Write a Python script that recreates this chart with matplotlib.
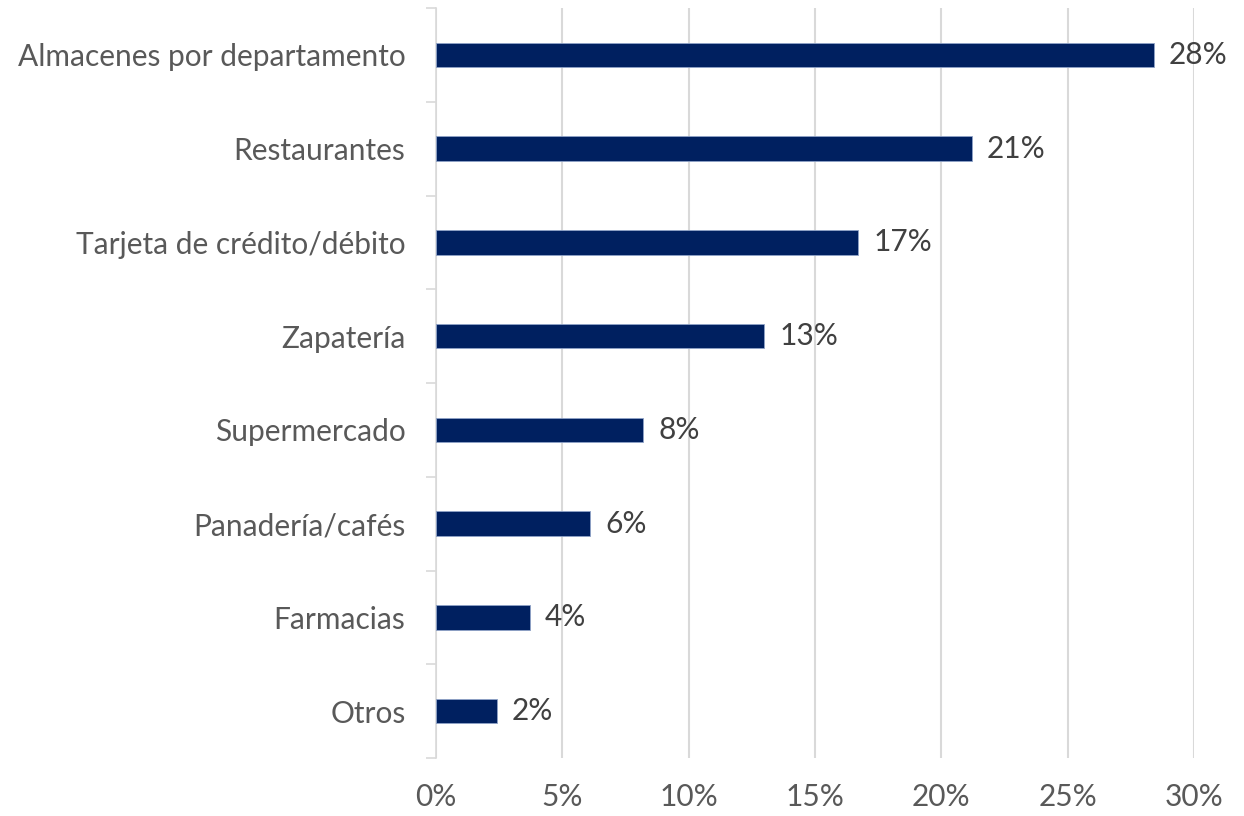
import matplotlib
matplotlib.use('Agg')
import matplotlib.pyplot as plt
import numpy as np

categories = ['Almacenes por departamento', 'Restaurantes', 'Tarjeta de crédito/débito',
              'Zapatería', 'Supermercado', 'Panadería/cafés', 'Farmacias', 'Otros']
values = [28.4, 21.2, 16.7, 13.0, 8.2, 6.1, 3.7, 2.4]
xticks = [0, 5, 10, 15, 20, 25, 30]

plt.rcParams['font.family'] = ['Lato', 'DejaVu Sans']

fig = plt.figure(figsize=(12.44, 8.16), dpi=100)
ax = fig.add_axes([0.3505, 0.0711, 0.6093, 0.919])

n = len(categories)
y = np.arange(n)[::-1]

ax.barh(y, values, height=0.26, color='#002060', edgecolor='#8fa3c8', linewidth=0.6, zorder=3)

for yi, v in zip(y, values):
    ax.text(v + 0.6, yi, f'{round(v):.0f}%', va='center', ha='left',
            fontsize=21.5, color='#404040')

ax.set_xlim(0, 30)
ax.set_ylim(-0.5, n - 0.5)
ax.set_xticks(xticks)
ax.set_xticklabels([f'{t}%' for t in xticks], fontsize=21.5, color='#595959')
ax.set_yticks(y)
ax.set_yticklabels(categories, fontsize=21.5, color='#595959')
ax.set_yticks(np.arange(n + 1) - 0.5, minor=True)

ax.tick_params(axis='x', length=0, pad=18)
ax.tick_params(axis='y', which='major', length=0, pad=22)
ax.tick_params(axis='y', which='minor', length=7, width=1.2, color='#d9d9d9')

ax.grid(axis='x', color='#d9d9d9', linewidth=1.5, zorder=0)
for s in ['top', 'right', 'bottom']:
    ax.spines[s].set_visible(False)
ax.spines['left'].set_color('#d9d9d9')
ax.spines['left'].set_linewidth(1.2)

fig.savefig('out.png', dpi=100)
